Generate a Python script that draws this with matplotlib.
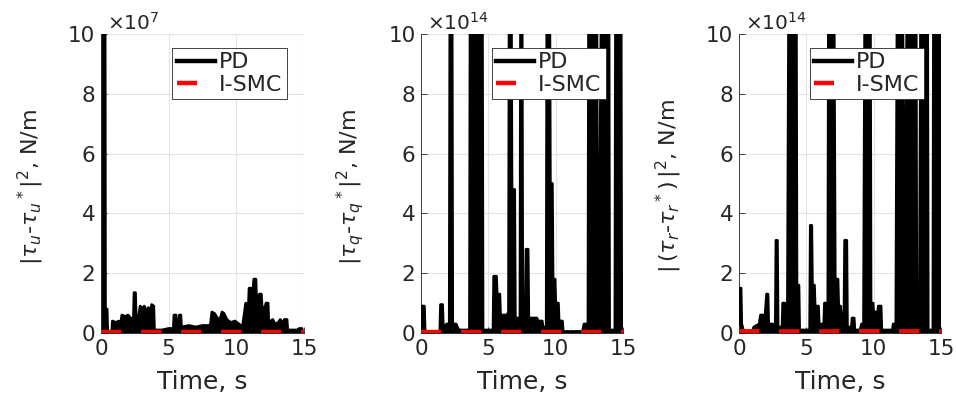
"""
Squared torque error, PD vs I-SMC, for the three channels (u, q, r).
Recreated as three side-by-side panels in a MATLAB-like style.
"""
import matplotlib
matplotlib.use("Agg")
import matplotlib.pyplot as plt

# ── Data ───────────────────────────────────────────────────────────────────────
# Panel 1: |tau_u - tau_u*|^2, in units of 1e7
t_u = [0.00, 0.01, 0.30, 0.33, 0.45, 0.50, 0.80, 0.85, 1.10, 1.30, 1.45, 1.55,
       1.80, 2.00, 2.20, 2.40, 2.45, 2.55, 2.60, 2.80, 2.90, 3.10, 3.20, 3.40,
       3.50, 3.65, 3.75, 3.90, 3.95, 4.50, 5.00, 5.35, 5.40, 5.55, 5.60, 5.75,
       5.80, 5.90, 5.95, 6.50, 7.00, 7.50, 8.00, 8.10, 8.20, 8.40, 8.60, 8.80,
       8.95, 9.10, 9.30, 9.60, 9.90, 10.20, 10.45, 10.55, 10.70, 10.90, 10.95,
       11.10, 11.20, 11.30, 11.45, 11.50, 11.65, 11.70, 11.85, 11.90, 12.10,
       12.20, 12.35, 12.40, 12.70, 12.85, 13.10, 13.25, 13.45, 13.55, 13.75,
       13.80, 14.50, 14.65, 14.85, 14.90, 15.00]
pd_u = [12.0, 12.0, 12.0, 0.80, 0.80, 0.05, 0.05, 0.40, 0.35, 0.40, 0.30, 0.60,
        0.55, 0.60, 0.50, 0.45, 1.35, 1.35, 0.50, 0.60, 0.90, 0.80, 0.90, 0.70,
        0.85, 0.70, 0.95, 0.90, 0.10, 0.10, 0.15, 0.15, 0.60, 0.60, 0.30, 0.30,
        0.60, 0.60, 0.20, 0.25, 0.20, 0.25, 0.25, 0.30, 0.70, 0.65, 0.50, 0.45,
        0.70, 0.65, 0.45, 0.35, 0.40, 0.30, 0.20, 0.50, 1.00, 0.90, 1.50,
        1.50, 1.20, 1.80, 1.80, 1.10, 1.10, 1.30, 1.30, 0.90, 0.80,
        1.00, 1.00, 0.35, 0.45, 0.30, 0.35, 0.45, 0.30, 0.45, 0.45,
        0.10, 0.10, 0.15, 0.15, 0.05, 0.05]

# Panel 2: |tau_q - tau_q*|^2, in units of 1e14
t_q = [0.00, 0.05, 0.25, 0.30, 1.40, 1.45, 1.60, 1.65, 1.90, 2.10, 2.15, 2.30,
       2.35, 2.60, 2.80, 3.60, 3.65, 4.55, 4.60, 5.35, 5.40, 5.60, 5.65, 5.85,
       5.90, 6.40, 6.50, 6.55, 6.70, 6.75, 6.95, 7.00, 7.35, 7.40, 7.50, 7.55,
       7.75, 7.80, 7.95, 8.00, 8.60, 8.70, 9.00, 9.05, 9.30, 9.35, 9.55, 9.60,
       9.75, 9.80, 9.95, 10.00, 10.20, 10.25, 10.50, 10.55, 12.00, 12.10,
       12.40, 12.45, 13.05, 13.10, 13.25, 13.40, 13.95, 14.00, 14.40, 14.45,
       14.85, 14.90, 15.00]
pd_q = [0.10, 0.90, 0.90, 0.05, 0.05, 0.95, 0.95, 0.15, 0.30, 0.30, 12.0, 12.0,
        0.30, 0.30, 0.10, 0.10, 12.0, 12.0, 0.10, 0.10, 1.90, 1.90, 1.30, 1.30,
        0.60, 0.60, 0.70, 12.0, 12.0, 4.80, 4.80, 0.50, 0.50, 12.0, 12.0, 1.00,
        1.00, 2.80, 2.80, 0.50, 0.50, 0.40, 0.40, 0.20, 0.20, 12.0, 12.0, 5.00,
        5.00, 1.80, 1.80, 1.00, 1.00, 0.40, 0.40, 0.05, 0.05, 0.30,
        0.30, 12.0, 12.0, 3.40, 3.40, 12.0, 12.0, 0.10, 0.10, 12.0,
        12.0, 0.05, 0.05]

# Panel 3: |(tau_r - tau_r*)|^2, in units of 1e14
t_r = [0.00, 0.05, 0.15, 0.20, 0.35, 1.00, 1.10, 1.50, 1.60, 1.80, 1.90, 2.05,
       2.15, 2.20, 2.50, 2.70, 2.75, 2.85, 2.90, 3.20, 3.25, 3.40, 3.45, 3.60,
       3.70, 4.25, 4.30, 4.45, 4.50, 5.25, 5.30, 5.40, 5.45, 5.60, 5.65, 5.90,
       5.95, 6.30, 6.35, 6.60, 6.65, 7.05, 7.15, 7.20, 7.35, 7.40, 7.55, 7.60,
       7.80, 7.85, 8.00, 8.05, 8.35, 8.40, 8.55, 8.60, 9.00, 9.10, 9.25, 9.35,
       9.75, 9.80, 9.95, 10.00, 10.30, 10.35, 10.55, 10.60, 11.40, 11.45,
       11.65, 11.75, 12.15, 12.20, 12.40, 12.50, 13.15, 13.20, 13.40, 13.50,
       14.00, 14.05, 14.40, 14.45, 14.90, 14.95, 15.00]
pd_r = [0.30, 1.50, 1.50, 0.30, 0.05, 0.05, 0.20, 0.30, 0.60, 0.60, 0.30, 1.30,
        1.30, 0.30, 0.30, 0.20, 3.10, 3.10, 0.20, 0.20, 1.00, 1.00, 0.90, 0.90,
        12.0, 12.0, 1.60, 1.60, 0.10, 0.10, 3.60, 3.60, 1.60, 1.60, 0.90, 0.90,
        0.30, 0.30, 1.00, 1.00, 12.0, 12.0, 1.10, 1.80, 1.80, 0.90, 0.90, 0.60,
        0.60, 3.10, 3.10, 0.20, 0.20, 0.50, 0.50, 0.10, 0.10, 0.30, 0.30, 12.0,
        12.0, 1.00, 1.00, 0.70, 0.70, 0.90, 0.90, 0.10, 0.10, 0.30,
        0.30, 12.0, 12.0, 7.30, 7.30, 12.0, 12.0, 1.00, 1.00, 12.0,
        12.0, 0.10, 0.10, 12.0, 12.0, 0.05, 0.05]

# I-SMC stays on the floor in every panel
t_ismc = [0.0, 5.0, 10.0, 15.0]
ismc_u = [0.04, 0.04, 0.04, 0.04]
ismc_q = [0.05, 0.05, 0.05, 0.05]
ismc_r = [0.06, 0.05, 0.06, 0.05]

y_labels = [
    r"$|\tau_u$-$\tau_u{}^*|^2$, N/m",
    r"$|\tau_q$-$\tau_q{}^*|^2$, N/m",
    r"$|\,(\tau_r$-$\tau_r{}^*)\,|^2$, N/m",
]
exponents = [7, 14, 14]
x_ticks = [0, 5, 10, 15]
y_ticks = [0, 2, 4, 6, 8, 10]

# ── Style ─────────────────────────────────────────────────────────────────────
TEXT_COLOR = "#262626"
GRID_COLOR = "#e3e3e3"
PD_COLOR = "black"
ISMC_COLOR = "#ff0000"

plt.rcParams.update({
    "font.family": ["DejaVu Sans"],
    "mathtext.fontset": "dejavusans",
    "text.color": TEXT_COLOR,
    "axes.labelcolor": TEXT_COLOR,
    "xtick.color": TEXT_COLOR,
    "ytick.color": TEXT_COLOR,
})

# axes rectangles in figure fractions (left, bottom, width, height)
AX_RECTS = [
    (0.1056, 0.1633, 0.2123, 0.7513),
    (0.4404, 0.1633, 0.2113, 0.7513),
    (0.7730, 0.1633, 0.2113, 0.7513),
]


def draw_panel(ax, t, pd, ismc, ylabel, exponent):
    ax.fill_between(t, 0, pd, color=PD_COLOR, lw=0, zorder=2)
    ax.plot(t, pd, color=PD_COLOR, lw=2.0, zorder=3, label="PD")
    ax.plot(t_ismc, ismc, color=ISMC_COLOR, lw=3.2, dashes=(4.5, 4.5),
            zorder=4, label="I-SMC")

    ax.set_xlim(0, 15)
    ax.set_ylim(0, 10)
    ax.set_xticks(x_ticks)
    ax.set_yticks(y_ticks)
    ax.grid(True, color=GRID_COLOR, lw=0.8, zorder=0)
    ax.set_axisbelow(True)
    for side in ("top", "right"):
        ax.spines[side].set_visible(False)
    for side in ("left", "bottom"):
        ax.spines[side].set_color(TEXT_COLOR)
        ax.spines[side].set_linewidth(0.6)
    ax.tick_params(direction="in", length=4, width=0.6, labelsize=15.5, pad=4)

    ax.set_xlabel("Time, s", fontsize=18, labelpad=8)
    ax.set_ylabel(ylabel, fontsize=16)
    ax.yaxis.set_label_coords(-0.27, 0.49)

    ax.text(0.03, 1.0, rf"$\times10^{{{exponent}}}$", transform=ax.transAxes,
            fontsize=14.5, ha="left", va="bottom")

    leg = ax.legend(loc="upper right", bbox_to_anchor=(0.916, 0.953),
                    borderaxespad=0, fontsize=16, handlelength=1.7,
                    handletextpad=0.2, labelspacing=0.1, borderpad=0.2,
                    fancybox=False, framealpha=1)
    leg.get_frame().set_edgecolor(TEXT_COLOR)
    leg.get_frame().set_linewidth(0.6)
    for handle in leg.get_lines():
        handle.set_linewidth(3.2)


fig = plt.figure(figsize=(9.56, 3.98), dpi=100)
series = [(t_u, pd_u, ismc_u), (t_q, pd_q, ismc_q), (t_r, pd_r, ismc_r)]
for rect, (t, pd, ismc), ylabel, exponent in zip(AX_RECTS, series, y_labels, exponents):
    ax = fig.add_axes(rect)
    draw_panel(ax, t, pd, ismc, ylabel, exponent)

fig.savefig("out.png", dpi=100, facecolor="white")
plt.close(fig)
